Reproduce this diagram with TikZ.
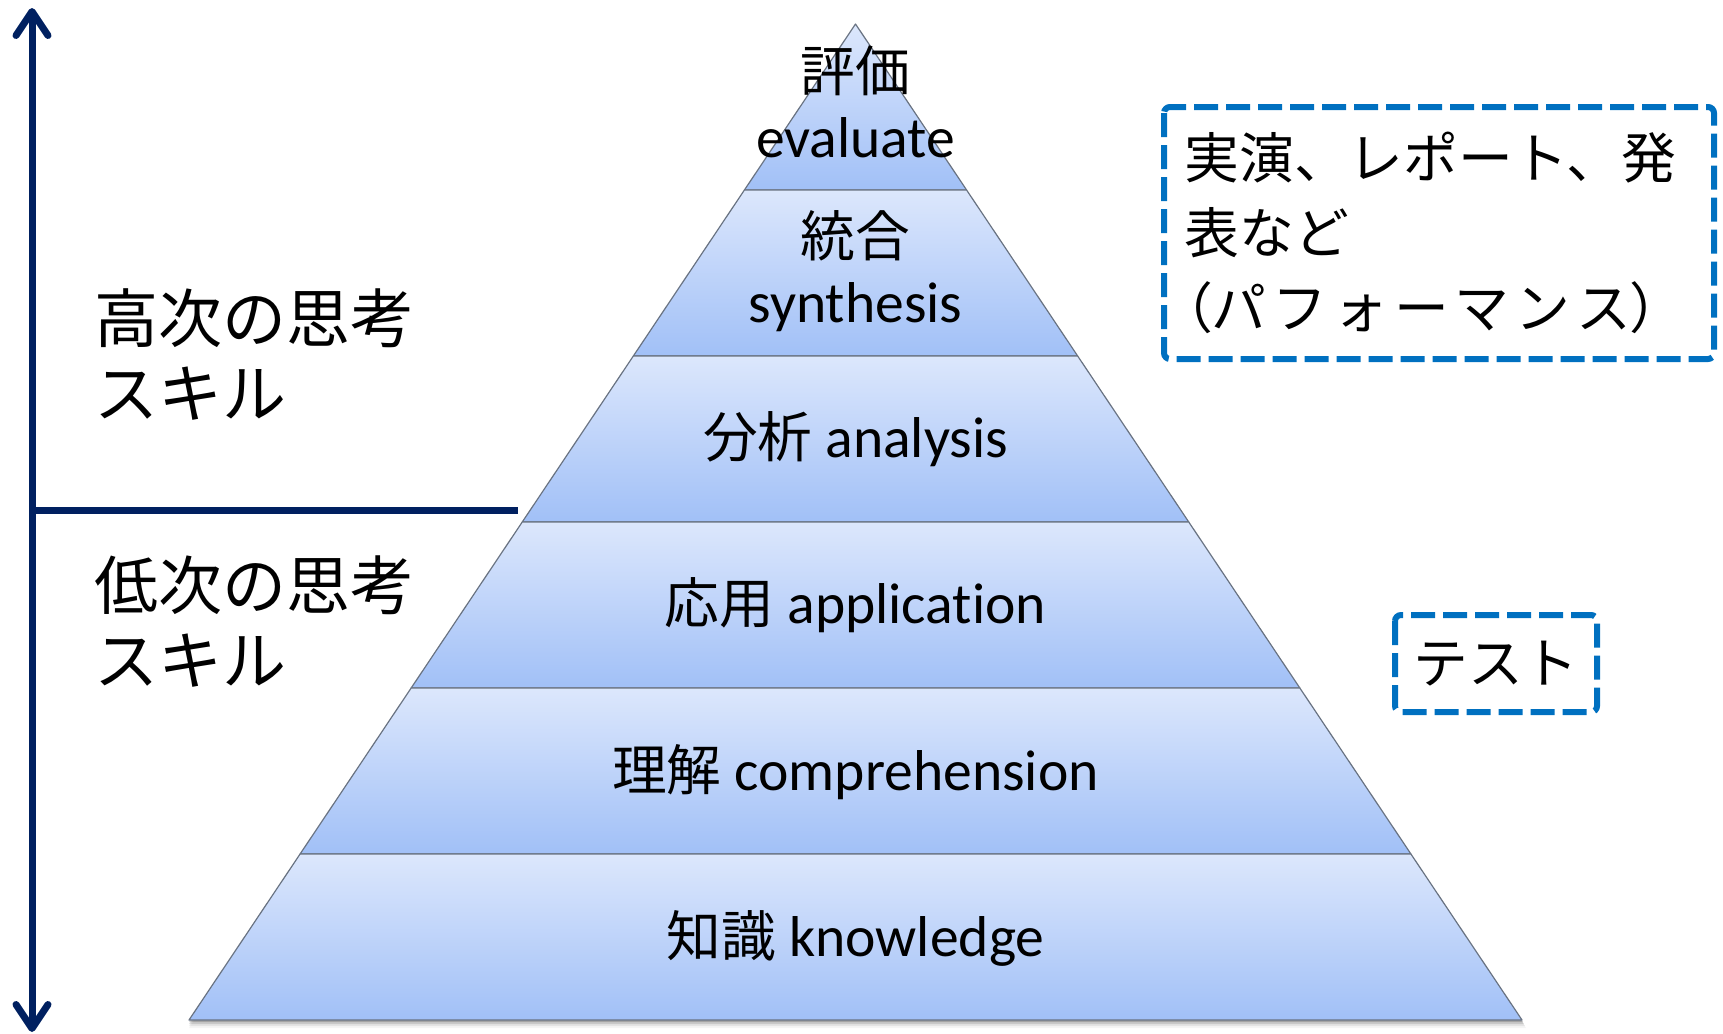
\documentclass[tikz,border=0pt]{standalone}
\usepackage{fontspec}
\setmainfont{Carlito}[Ligatures={NoCommon}]
\newfontfamily\jp{Noto Sans CJK JP}
\newfontfamily\jpy{Noto Sans CJK JP}[Scale=0.95]
\newfontfamily\jpp{Noto Sans CJK JP}[RawFeature=+palt]
\usetikzlibrary{calc,arrows.meta}
\definecolor{navy}{RGB}{0,32,96}
\definecolor{boxblue}{RGB}{0,112,192}
\definecolor{bandtop}{RGB}{220,231,252}
\definecolor{bandbot}{RGB}{161,192,247}
\definecolor{edgegray}{RGB}{105,115,130}
\tikzset{
  band/.style={top color=bandtop, bottom color=bandbot, draw=edgegray, line width=0.6pt, line join=round},
  plbl/.style={inner sep=0pt, anchor=base, font=\fontsize{28.8}{33}\selectfont},
  sidelbl/.style={inner sep=0pt, anchor=base west, font=\jp\fontsize{32}{37}\selectfont},
  boxlbl/.style={inner sep=0pt, anchor=base west, font=\jp\fontsize{27.4}{32}\selectfont},
  dbox/.style={draw=boxblue, line width=3pt, dash pattern=on 12pt off 4pt, rounded corners=3pt},
  axis/.style={draw=navy, line width=3.5pt},
}
\begin{document}
\begin{tikzpicture}[x=0.5pt,y=-0.5pt]
\useasboundingbox (0,0) rectangle (1723,1033);
% pyramid
\coordinate (apex) at (855.5,24);
\coordinate (bl) at (189,1020);
\coordinate (br) at (1522,1020);
% shadow
\foreach \s/\o in {2/0.18,4/0.12,6/0.07,8/0.04}{
  \fill[black,opacity=\o] ([shift={(0.5*\s,\s)}]apex) -- ([shift={(0.5*\s,\s)}]br) -- ([shift={(0,\s)}]bl) -- cycle;
}
\foreach \i in {0,...,5}{
  \pgfmathsetmacro\ta{\i/6}
  \pgfmathsetmacro\tb{(\i+1)/6}
  \path[band] ($(apex)!\ta!(bl)$) -- ($(apex)!\ta!(br)$) -- ($(apex)!\tb!(br)$) -- ($(apex)!\tb!(bl)$) -- cycle;
}
% labels in pyramid
\node[plbl] (evj) at (855.5,91) {\jpy 評価};
\node[plbl] (eve) at (855.5,157) {evaluate};
\node[plbl] (synj) at (855.5,256.5) {\jpy 統合};
\node[plbl] (syne) at (855.5,322.5) {synthesis};
\node[plbl] (ana) at (855.5,457) {{\jpy 分析} analysis};
\node[plbl] (app) at (855.5,623) {{\jpy 応用} application};
\node[plbl] (comp) at (855.5,790) {{\jpy 理解} comprehension};
\node[plbl] (know) at (855.5,956) {{\jpy 知識} knowledge};
% axis
\coordinate (atop) at (32,8);
\coordinate (abot) at (32,1032);
\coordinate (hl) at (32,510);
\coordinate (hr) at (518,510);
\draw[axis, {Straight Barb[round,length=12pt,width=16pt]}-{Straight Barb[round,length=12pt,width=16pt]}] (atop) -- (abot);
\draw[axis] (hl) -- (hr);
% side labels
\node[sidelbl] (hi1) at (94,342) {高次の思考};
\node[sidelbl] (hi2) at (94,417) {スキル};
\node[sidelbl] (lo1) at (94,609) {低次の思考};
\node[sidelbl] (lo2) at (94,684) {スキル};
% boxes
\draw[dbox] (1164,107) rectangle (1714,359);
\node[boxlbl] (p1) at (1184,178) {実演、レポート、発};
\node[boxlbl] (p2) at (1184,253) {表など};
\node[boxlbl] (p3) at (1184,328) {{\jpp （}パ\kern3pt フ\kern3pt ォ\kern3pt ー\kern3pt マ\kern3pt ン\kern3pt ス{\jpp ）}};
\draw[dbox] (1395,615) rectangle (1597,712);
\node[boxlbl, anchor=base] (test) at (1496,683) {テスト};
\end{tikzpicture}
\end{document}
